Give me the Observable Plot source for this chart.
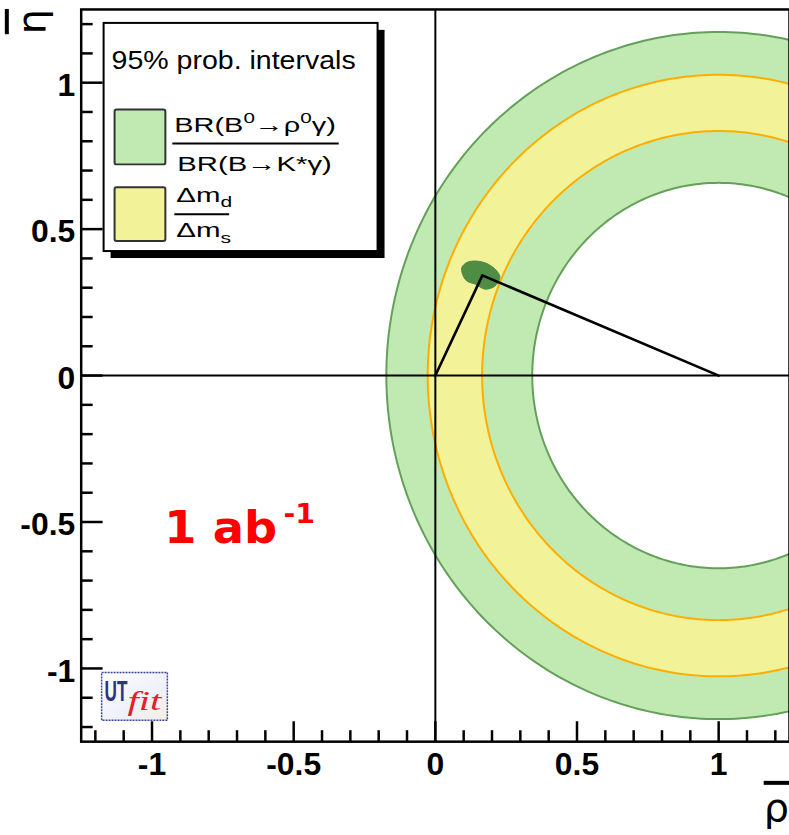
<!DOCTYPE html>
<html><head><meta charset="utf-8">
<script src="https://cdn.jsdelivr.net/npm/d3@7"></script>
<script src="https://cdn.jsdelivr.net/npm/@observablehq/plot@0.6"></script>
<style>
html,body{margin:0;padding:0;background:#fff;overflow:hidden;}
#wrap{position:relative;width:789px;height:835px;overflow:hidden;}
svg{display:block;}
</style></head><body><div id="wrap"></div>
<script>
// ---- data ----
const ringCenterRho = 1, ringCenterEta = 0;
const ringRadii = [1.173, 1.027, 0.835, 0.658]; // green outer, yellow outer, yellow inner, green inner
const apexRho = 0.166, apexEta = 0.342;
const triangleRho = [0, apexRho, 1];
const triangleEta = [0, apexEta, 0];
const blobRho = [0.0935, 0.111, 0.146, 0.187, 0.217, 0.228, 0.211, 0.176, 0.141, 0.111, 0.096];
const blobEta = [0.369, 0.386, 0.391, 0.380, 0.357, 0.335, 0.306, 0.295, 0.312, 0.323, 0.346];
const majorTicks = [-1, -0.5, 0, 0.5, 1];
const tickLabels = ["-1", "-0.5", "0", "0.5", "1"];
const minorTicks = [-1.2, -1.1, -0.9, -0.8, -0.7, -0.6, -0.4, -0.3, -0.2, -0.1, 0.1, 0.2, 0.3, 0.4, 0.6, 0.7, 0.8, 0.9, 1.1, 1.2];
const legendTitle = "95% prob. intervals";
const luminosityLabel = ["1 ab", "-1"];
const luminosityPos = [-0.955, -0.572];

// ---- styles ----
const GREEN = "#c0eab2", GREEN_EDGE = "#64a05a", YELLOW = "#f2f298", ORANGE = "#ffad00", BLOB = "#4e8d43";
const ringFills = [GREEN, YELLOW, GREEN, "white"];
const ringStrokes = [GREEN_EDGE, ORANGE, ORANGE, GREEN_EDGE];

const W = 792, H = 835, ML = 81, MR = 0, MT = 9, MB = 91;
const plotW = W - ML - MR, plotH = H - MT - MB;

const circle = r => d3.range(0, 361).map(i => ({
  x: ringCenterRho + r * Math.cos(i * Math.PI / 180),
  y: ringCenterEta + r * Math.sin(i * Math.PI / 180)
}));
const blob = blobRho.map((r, i) => ({rho: r, eta: blobEta[i]}));
const tri = triangleRho.map((r, i) => ({rho: r, eta: triangleEta[i]}));
const labelFor = new Map(majorTicks.map((t, i) => [t, tickLabels[i]]));

const chart = Plot.plot({
  width: W, height: H,
  marginLeft: ML, marginRight: MR, marginTop: MT, marginBottom: MB,
  x: {domain: [-1.25, 1.25]},
  y: {domain: [-1.25, 1.25]},
  style: {fontFamily: "'Liberation Sans', Arial, sans-serif", background: "white", overflow: "visible"},
  marks: [
    ...ringRadii.map((r, i) => Plot.line(circle(r), {
      x: "x", y: "y", fill: ringFills[i], stroke: ringStrokes[i], strokeWidth: 2,
      curve: "linear-closed", clip: true
    })),
    Plot.line(blob, {x: "rho", y: "eta", fill: BLOB, stroke: BLOB, strokeWidth: 1, curve: "catmull-rom-closed"}),
    Plot.ruleX([0], {stroke: "black", strokeWidth: 2}),
    Plot.ruleY([0], {stroke: "black", strokeWidth: 2}),
    Plot.line(tri, {x: "rho", y: "eta", stroke: "black", strokeWidth: 2.6}),
    Plot.ruleX(majorTicks, {stroke: "black", strokeWidth: 2.5, insetTop: plotH - 20}),
    Plot.ruleX(minorTicks, {stroke: "black", strokeWidth: 2.5, insetTop: plotH - 11}),
    Plot.ruleY(majorTicks, {stroke: "black", strokeWidth: 2.5, insetRight: plotW - 22}),
    Plot.ruleY(minorTicks, {stroke: "black", strokeWidth: 2.5, insetRight: plotW - 12}),
    Plot.axisX({ticks: majorTicks, tickSize: 0, tickPadding: 11, tickFormat: d => labelFor.get(d),
      fontSize: 32, fontWeight: "bold", label: null}),
    Plot.axisY({ticks: majorTicks, tickSize: 0, tickPadding: 6, tickFormat: d => labelFor.get(d),
      fontSize: 32, fontWeight: "bold", label: null, dy: 3}),
    Plot.frame({stroke: "black", strokeWidth: 2.5})
  ]
});
document.getElementById("wrap").appendChild(chart);

const svg = d3.select(chart);
const sx = chart.scale("x"), sy = chart.scale("y");

function fit(textSel, x, y, target) {
  textSel.attr("text-anchor", "start");
  const w = textSel.node().getComputedTextLength();
  const k = target / w;
  textSel.attr("transform", `translate(${x},${y}) scale(${k},1)`);
}

// ---- axis titles ----
svg.append("text")
  .attr("transform", "translate(45,9) rotate(-90)")
  .attr("text-anchor", "end")
  .attr("font-family", "'DejaVu Sans', sans-serif")
  .attr("font-size", 40)
  .attr("text-decoration", "overline")
  .text("η");
svg.append("text")
  .attr("x", 792).attr("y", 824)
  .attr("text-anchor", "end")
  .attr("font-family", "'DejaVu Sans', sans-serif")
  .attr("font-size", 40)
  .attr("text-decoration", "overline")
  .text("ρ");

// ---- legend ----
const lg = svg.append("g").attr("font-family", "'Liberation Sans', Arial, sans-serif").attr("text-anchor", "start");
lg.append("rect").attr("x", 111).attr("y", 30).attr("width", 275).attr("height", 229).attr("fill", "black");
lg.append("rect").attr("x", 104).attr("y", 23).attr("width", 275).attr("height", 229)
  .attr("fill", "white").attr("stroke", "black").attr("stroke-width", 2);
fit(lg.append("text").attr("font-size", 26).text(legendTitle), 112, 69, 245);
lg.append("rect").attr("x", 115).attr("y", 110).attr("width", 51).attr("height", 55).attr("rx", 2)
  .attr("fill", GREEN).attr("stroke", "#333").attr("stroke-width", 2);
lg.append("rect").attr("x", 115).attr("y", 188).attr("width", 51).attr("height", 54).attr("rx", 2)
  .attr("fill", YELLOW).attr("stroke", "#333").attr("stroke-width", 2);

const num = lg.append("text").attr("font-size", 21);
num.append("tspan").text("BR(B");
num.append("tspan").attr("dy", -10).attr("font-size", 15).text("0");
num.append("tspan").attr("dy", 10).text("→ρ");
num.append("tspan").attr("dy", -10).attr("font-size", 15).text("0");
num.append("tspan").attr("dy", 10).text("γ)");
fit(num, 175, 133, 162);
lg.append("line").attr("x1", 173).attr("x2", 340).attr("y1", 144).attr("y2", 144).attr("stroke", "black").attr("stroke-width", 2);
const den = lg.append("text").attr("font-size", 21).text("BR(B→K*γ)");
fit(den, 178, 172, 155);

const dn = lg.append("text").attr("font-size", 21);
dn.append("tspan").text("Δm");
dn.append("tspan").attr("dy", 5).attr("font-size", 15).text("d");
fit(dn, 177, 203, 56);
lg.append("line").attr("x1", 175).attr("x2", 230).attr("y1", 215).attr("y2", 215).attr("stroke", "black").attr("stroke-width", 2);
const ds = lg.append("text").attr("font-size", 21);
ds.append("tspan").text("Δm");
ds.append("tspan").attr("dy", 6).attr("font-size", 15).text("s");
fit(ds, 177, 238, 55);

// ---- luminosity label ----
const lum = svg.append("text").attr("font-family", "'DejaVu Sans', sans-serif").attr("font-weight", "bold")
  .attr("font-size", 44).attr("fill", "#ff0000");
lum.append("tspan").text(luminosityLabel[0]);
lum.append("tspan").attr("dy", -20).attr("dx", 6).attr("font-size", 27).text(luminosityLabel[1]);
fit(lum, sx.apply(luminosityPos[0]), sy.apply(luminosityPos[1]), 145);

// ---- UTfit logo ----
const defs = svg.append("defs");
const gr = defs.append("linearGradient").attr("id", "utg").attr("x1", 0).attr("x2", 1).attr("y1", 0).attr("y2", 1);
gr.append("stop").attr("offset", "0%").attr("stop-color", "#ffffff");
gr.append("stop").attr("offset", "60%").attr("stop-color", "#eef0fb");
gr.append("stop").attr("offset", "100%").attr("stop-color", "#f7f0e0");
const logo = svg.append("g");
logo.append("rect").attr("x", 102).attr("y", 675).attr("width", 66).attr("height", 48)
  .attr("fill", "url(#utg)").attr("stroke", "#3a4796").attr("stroke-width", 1.5).attr("stroke-dasharray", "2 1");
fit(logo.append("text").attr("font-family", "'Liberation Sans', Arial, sans-serif").attr("font-weight", "bold")
  .attr("font-size", 30).attr("fill", "#2b3580").text("UT"), 105, 704, 23);
fit(logo.append("text").attr("font-family", "'Liberation Serif', serif").attr("font-style", "italic")
  .attr("font-size", 28).attr("fill", "#e0202a").text("fit"), 128, 713, 34);
</script>
</body></html>
